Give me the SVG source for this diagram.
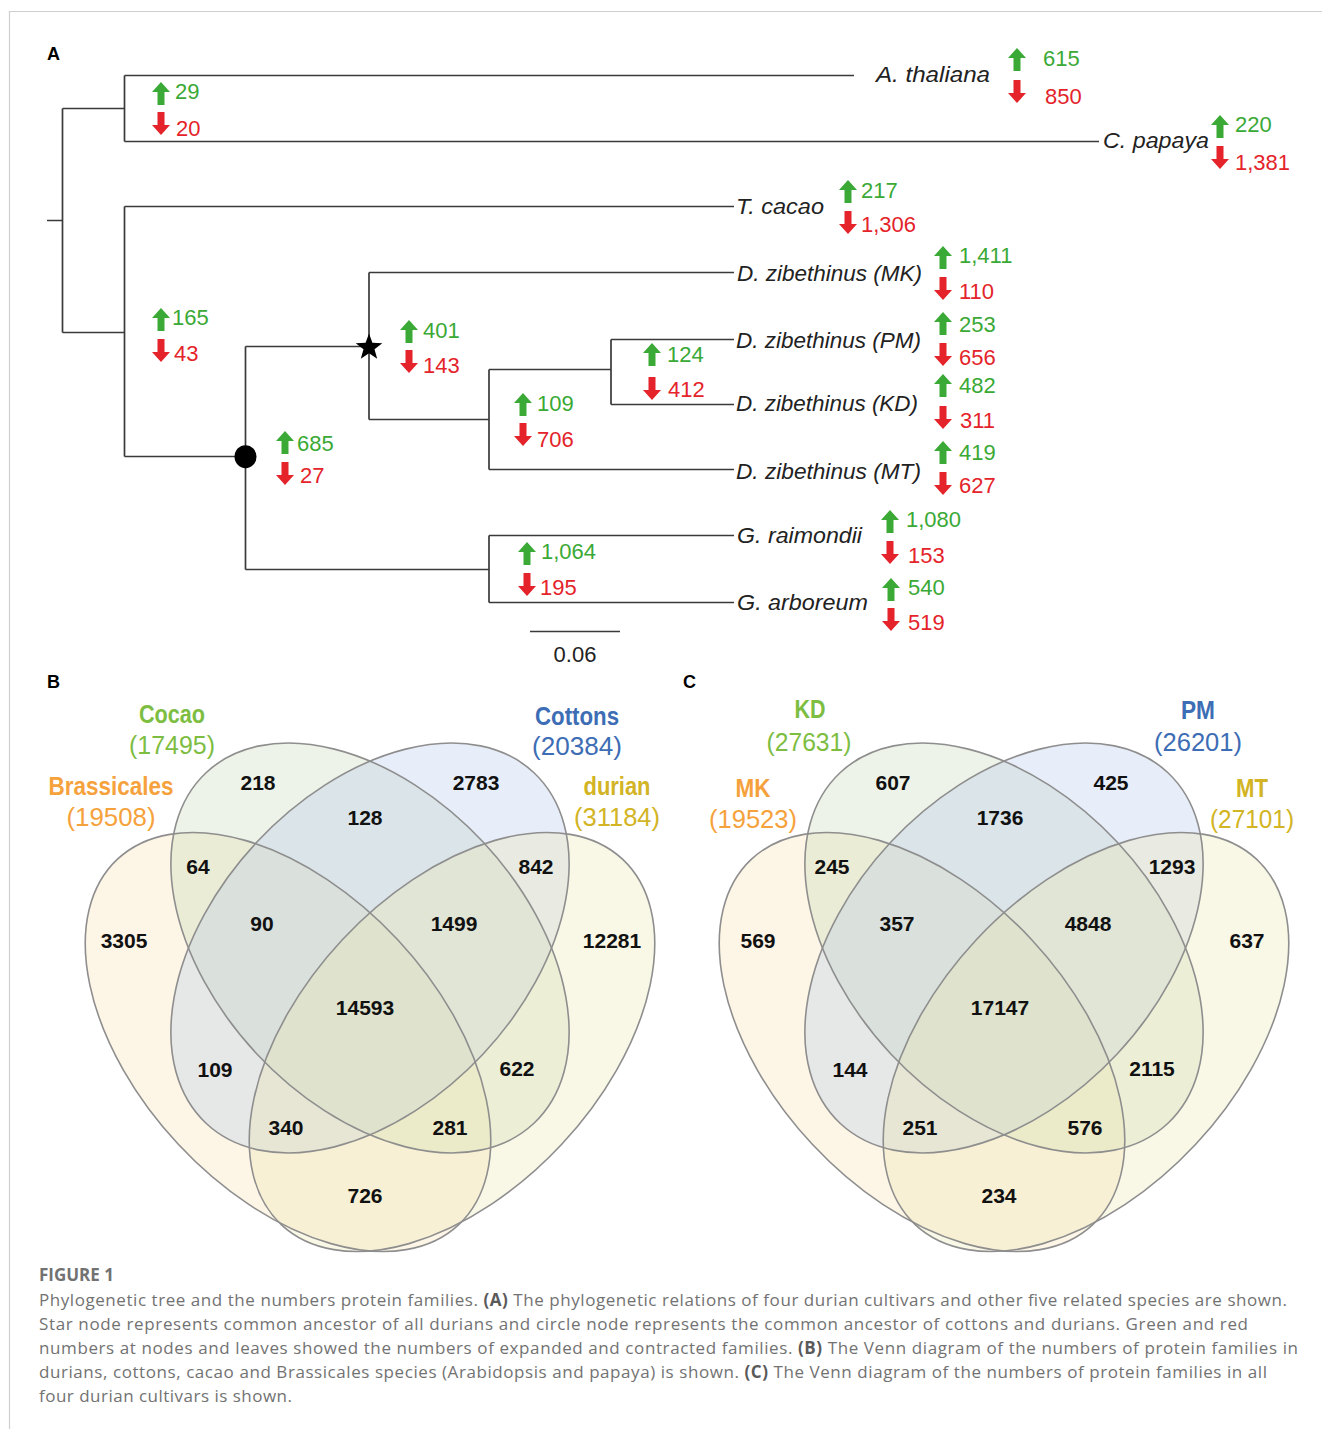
<svg xmlns="http://www.w3.org/2000/svg" xmlns:xlink="http://www.w3.org/1999/xlink" width="1322" height="1429" viewBox="0 0 1322 1429">
<style>
.frame{stroke:#cfcfcf;stroke-width:1.2;fill:none}
.br{stroke:#3a3a3a;stroke-width:1.7;fill:none}
.n{font-family:'Liberation Sans',Arial,sans-serif;font-size:22px}
.g{fill:#3aa935}
.r{fill:#e4232a}
.sp{font-family:'Liberation Sans',Arial,sans-serif;font-style:italic;font-size:22.5px;fill:#222}
.pl{font-family:'Liberation Sans',Arial,sans-serif;font-weight:bold;font-size:18px;fill:#000}
.vn{font-family:'Liberation Sans',Arial,sans-serif;font-weight:bold;font-size:21px;fill:#111;text-anchor:middle}
.vl{font-family:'Liberation Sans Narrow','Liberation Sans',Arial,sans-serif;font-weight:bold;font-size:25px;text-anchor:middle}
.vc{font-family:'Liberation Sans',Arial,sans-serif;font-size:25px;text-anchor:middle}
.cap{font-family:'Open Sans','Liberation Sans',Arial,sans-serif;font-size:17px;fill:#727272}
.capb{font-weight:bold;fill:#5a5a5a}
.e{stroke:#8e8e8e;stroke-width:1.6}
.fo{fill:#f8deac;fill-opacity:0.3}
.fg{fill:#c3d7b4;fill-opacity:0.3}
.fb{fill:#b4c8eb;fill-opacity:0.3}
.fy{fill:#ebe4ac;fill-opacity:0.3}
.cg{fill:#7dbd42}.cb{fill:#3d6db4}.co{fill:#f6a23c}.cy{fill:#d2b424}
</style>
<defs>
<path id="up" d="M9,0 L18,10 L12.5,10 L12.5,23 L5.5,23 L5.5,10 L0,10 Z"/>
<path id="dn" d="M9,23 L18,13 L12.5,13 L12.5,0 L5.5,0 L5.5,13 L0,13 Z"/>
</defs>
<rect width="1322" height="1429" fill="#fff"/>
<path class="frame" d="M9.5,1429 V11.5 H1322"/>

<text class="pl" x="47" y="60">A</text>
<text class="pl" x="47" y="688">B</text>
<text class="pl" x="683" y="688">C</text>

<g id="connectors">
<path class="br" d="M47,220.5 H62.5 M62.5,108.5 V332.5 M62.5,108.5 H124.5 M124.5,75.5 V141.5 M124.5,75.5 H854 M124.5,141.5 H1099 M62.5,332.5 H124.5 M124.5,206.5 V456.5 M124.5,206.5 H734 M124.5,456.5 H245.5 M245.5,346.5 V569.5 M245.5,346.5 H369 M245.5,569.5 H489 M369,272.5 V419.5 M369,272.5 H734 M369,419.5 H489 M489,369.5 V469.5 M489,369.5 H611 M489,469.5 H734 M611,339.5 V404.5 M611,339.5 H734 M611,404.5 H734 M489,535.5 V602.5 M489,535.5 H734 M489,602.5 H734"/>
</g>

<g id="scale-bar">
<path class="br" d="M530,631.5 H620"/>
<text class="n" x="575" y="662" text-anchor="middle" fill="#222">0.06</text>
</g>

<g id="node-brassicales">
<use href="#up" x="152" y="82" class="g"/><text class="n g" x="175" y="99">29</text>
<use href="#dn" x="152" y="112" class="r"/><text class="n r" x="176" y="136">20</text>
</g>
<g id="node-malvales">
<use href="#up" x="152" y="308" class="g"/><text class="n g" x="172" y="325">165</text>
<use href="#dn" x="152" y="339" class="r"/><text class="n r" x="174" y="361">43</text>
</g>
<g id="node-circle">
<ellipse cx="245.5" cy="456.7" rx="11" ry="11.5" fill="#000"/>
<use href="#up" x="276" y="431" class="g"/><text class="n g" x="297" y="451">685</text>
<use href="#dn" x="276" y="462" class="r"/><text class="n r" x="300" y="483">27</text>
</g>
<g id="node-star">
<polygon fill="#000" points="369,333.5 372.4,342.8 382.3,343.2 374.5,349.3 377.2,358.8 369,353.3 360.8,358.8 363.5,349.3 355.7,343.2 365.6,342.8"/>
<use href="#up" x="400" y="320" class="g"/><text class="n g" x="423" y="338">401</text>
<use href="#dn" x="400" y="350" class="r"/><text class="n r" x="423" y="373">143</text>
</g>
<g id="node-pkm">
<use href="#up" x="514" y="393" class="g"/><text class="n g" x="537" y="411">109</text>
<use href="#dn" x="514" y="423" class="r"/><text class="n r" x="537" y="447">706</text>
</g>
<g id="node-pk">
<use href="#up" x="643" y="343" class="g"/><text class="n g" x="667" y="362">124</text>
<use href="#dn" x="643" y="377" class="r"/><text class="n r" x="668" y="397">412</text>
</g>
<g id="node-cottons">
<use href="#up" x="518" y="542" class="g"/><text class="n g" x="541" y="559">1,064</text>
<use href="#dn" x="518" y="573" class="r"/><text class="n r" x="540" y="595">195</text>
</g>

<g id="leaf-athaliana">
<text class="sp" x="876" y="82" textLength="114" lengthAdjust="spacingAndGlyphs">A. thaliana</text>
<use href="#up" x="1008" y="48" class="g"/><text class="n g" x="1043" y="66">615</text>
<use href="#dn" x="1008" y="80" class="r"/><text class="n r" x="1045" y="104">850</text>
</g>
<g id="leaf-cpapaya">
<text class="sp" x="1103" y="148" textLength="106" lengthAdjust="spacingAndGlyphs">C. papaya</text>
<use href="#up" x="1211" y="115" class="g"/><text class="n g" x="1235" y="132">220</text>
<use href="#dn" x="1211" y="146" class="r"/><text class="n r" x="1235" y="170">1,381</text>
</g>
<g id="leaf-tcacao">
<text class="sp" x="736" y="214" textLength="88" lengthAdjust="spacingAndGlyphs">T. cacao</text>
<use href="#up" x="839" y="180" class="g"/><text class="n g" x="861" y="198">217</text>
<use href="#dn" x="839" y="211" class="r"/><text class="n r" x="861" y="232">1,306</text>
</g>
<g id="leaf-mk">
<text class="sp" x="737" y="281" textLength="185" lengthAdjust="spacingAndGlyphs">D. zibethinus (MK)</text>
<use href="#up" x="934" y="246" class="g"/><text class="n g" x="959" y="263">1,411</text>
<use href="#dn" x="934" y="277" class="r"/><text class="n r" x="959" y="299">110</text>
</g>
<g id="leaf-pm">
<text class="sp" x="736" y="348" textLength="185" lengthAdjust="spacingAndGlyphs">D. zibethinus (PM)</text>
<use href="#up" x="934" y="312" class="g"/><text class="n g" x="959" y="332">253</text>
<use href="#dn" x="934" y="343" class="r"/><text class="n r" x="959" y="365">656</text>
</g>
<g id="leaf-kd">
<text class="sp" x="736" y="411" textLength="182" lengthAdjust="spacingAndGlyphs">D. zibethinus (KD)</text>
<use href="#up" x="934" y="374" class="g"/><text class="n g" x="959" y="393">482</text>
<use href="#dn" x="934" y="406" class="r"/><text class="n r" x="960" y="428">311</text>
</g>
<g id="leaf-mt">
<text class="sp" x="736" y="479" textLength="185" lengthAdjust="spacingAndGlyphs">D. zibethinus (MT)</text>
<use href="#up" x="934" y="441" class="g"/><text class="n g" x="959" y="460">419</text>
<use href="#dn" x="934" y="472" class="r"/><text class="n r" x="959" y="493">627</text>
</g>
<g id="leaf-graimondii">
<text class="sp" x="737" y="543" textLength="125" lengthAdjust="spacingAndGlyphs">G. raimondii</text>
<use href="#up" x="881" y="510" class="g"/><text class="n g" x="906" y="527">1,080</text>
<use href="#dn" x="881" y="541" class="r"/><text class="n r" x="908" y="563">153</text>
</g>
<g id="leaf-garboreum">
<text class="sp" x="737" y="610" textLength="131" lengthAdjust="spacingAndGlyphs">G. arboreum</text>
<use href="#up" x="882" y="578" class="g"/><text class="n g" x="908" y="595">540</text>
<use href="#dn" x="882" y="608" class="r"/><text class="n r" x="908" y="630">519</text>
</g>

<g id="venn-b">
<ellipse class="fo" rx="250" ry="150" transform="translate(288,1042) rotate(47)"/>
<ellipse class="fg" rx="240" ry="155" transform="translate(370,948) rotate(47)"/>
<ellipse class="fb" rx="240" ry="155" transform="translate(370,948) rotate(-47)"/>
<ellipse class="fy" rx="250" ry="150" transform="translate(452,1042) rotate(-47)"/>
<g fill="none" class="e">
<ellipse rx="250" ry="150" transform="translate(288,1042) rotate(47)"/>
<ellipse rx="240" ry="155" transform="translate(370,948) rotate(47)"/>
<ellipse rx="240" ry="155" transform="translate(370,948) rotate(-47)"/>
<ellipse rx="250" ry="150" transform="translate(452,1042) rotate(-47)"/>
</g>
<text class="vl cg" x="172" y="723" textLength="66" lengthAdjust="spacingAndGlyphs">Cocao</text>
<text class="vc cg" x="172" y="754" textLength="86" lengthAdjust="spacingAndGlyphs">(17495)</text>
<text class="vl cb" x="577" y="725" textLength="84" lengthAdjust="spacingAndGlyphs">Cottons</text>
<text class="vc cb" x="577" y="755" textLength="90" lengthAdjust="spacingAndGlyphs">(20384)</text>
<text class="vl co" x="111" y="795" textLength="125" lengthAdjust="spacingAndGlyphs">Brassicales</text>
<text class="vc co" x="111" y="826" textLength="89" lengthAdjust="spacingAndGlyphs">(19508)</text>
<text class="vl cy" x="617" y="795" textLength="67" lengthAdjust="spacingAndGlyphs">durian</text>
<text class="vc cy" x="617" y="826" textLength="86" lengthAdjust="spacingAndGlyphs">(31184)</text>
<text class="vn" x="258" y="790">218</text>
<text class="vn" x="476" y="790">2783</text>
<text class="vn" x="365" y="825">128</text>
<text class="vn" x="198" y="874">64</text>
<text class="vn" x="536" y="874">842</text>
<text class="vn" x="124" y="948">3305</text>
<text class="vn" x="262" y="931">90</text>
<text class="vn" x="454" y="931">1499</text>
<text class="vn" x="612" y="948">12281</text>
<text class="vn" x="365" y="1015">14593</text>
<text class="vn" x="215" y="1077">109</text>
<text class="vn" x="517" y="1076">622</text>
<text class="vn" x="286" y="1135">340</text>
<text class="vn" x="450" y="1135">281</text>
<text class="vn" x="365" y="1203">726</text>
</g>

<g id="venn-c">
<ellipse class="fo" rx="250" ry="150" transform="translate(922,1042) rotate(47)"/>
<ellipse class="fg" rx="240" ry="155" transform="translate(1004,948) rotate(47)"/>
<ellipse class="fb" rx="240" ry="155" transform="translate(1004,948) rotate(-47)"/>
<ellipse class="fy" rx="250" ry="150" transform="translate(1086,1042) rotate(-47)"/>
<g fill="none" class="e">
<ellipse rx="250" ry="150" transform="translate(922,1042) rotate(47)"/>
<ellipse rx="240" ry="155" transform="translate(1004,948) rotate(47)"/>
<ellipse rx="240" ry="155" transform="translate(1004,948) rotate(-47)"/>
<ellipse rx="250" ry="150" transform="translate(1086,1042) rotate(-47)"/>
</g>
<text class="vl cg" x="810" y="718" textLength="31" lengthAdjust="spacingAndGlyphs">KD</text>
<text class="vc cg" x="809" y="751" textLength="85" lengthAdjust="spacingAndGlyphs">(27631)</text>
<text class="vl cb" x="1198" y="719" textLength="34" lengthAdjust="spacingAndGlyphs">PM</text>
<text class="vc cb" x="1198" y="751" textLength="88" lengthAdjust="spacingAndGlyphs">(26201)</text>
<text class="vl co" x="753" y="797" textLength="35" lengthAdjust="spacingAndGlyphs">MK</text>
<text class="vc co" x="753" y="828" textLength="88" lengthAdjust="spacingAndGlyphs">(19523)</text>
<text class="vl cy" x="1252" y="797" textLength="32" lengthAdjust="spacingAndGlyphs">MT</text>
<text class="vc cy" x="1252" y="828" textLength="84" lengthAdjust="spacingAndGlyphs">(27101)</text>
<text class="vn" x="893" y="790">607</text>
<text class="vn" x="1111" y="790">425</text>
<text class="vn" x="1000" y="825">1736</text>
<text class="vn" x="832" y="874">245</text>
<text class="vn" x="1172" y="874">1293</text>
<text class="vn" x="758" y="948">569</text>
<text class="vn" x="897" y="931">357</text>
<text class="vn" x="1088" y="931">4848</text>
<text class="vn" x="1247" y="948">637</text>
<text class="vn" x="1000" y="1015">17147</text>
<text class="vn" x="850" y="1077">144</text>
<text class="vn" x="1152" y="1076">2115</text>
<text class="vn" x="920" y="1135">251</text>
<text class="vn" x="1085" y="1135">576</text>
<text class="vn" x="999" y="1203">234</text>
</g>

<g id="caption">
<text class="cap" x="39" y="1281" font-size="13.5" font-weight="bold" fill="#6a6a6a">FIGURE 1</text>
<text class="cap" x="39" y="1306" textLength="1248" lengthAdjust="spacing">Phylogenetic tree and the numbers protein families. <tspan class="capb">(A)</tspan> The phylogenetic relations of four durian cultivars and other five related species are shown.</text>
<text class="cap" x="39" y="1330" textLength="1209" lengthAdjust="spacing">Star node represents common ancestor of all durians and circle node represents the common ancestor of cottons and durians. Green and red</text>
<text class="cap" x="39" y="1354" textLength="1259" lengthAdjust="spacing">numbers at nodes and leaves showed the numbers of expanded and contracted families. <tspan class="capb">(B)</tspan> The Venn diagram of the numbers of protein families in</text>
<text class="cap" x="39" y="1378" textLength="1228" lengthAdjust="spacing">durians, cottons, cacao and Brassicales species (Arabidopsis and papaya) is shown. <tspan class="capb">(C)</tspan> The Venn diagram of the numbers of protein families in all</text>
<text class="cap" x="39" y="1402" textLength="253" lengthAdjust="spacing">four durian cultivars is shown.</text>
</g>
</svg>
